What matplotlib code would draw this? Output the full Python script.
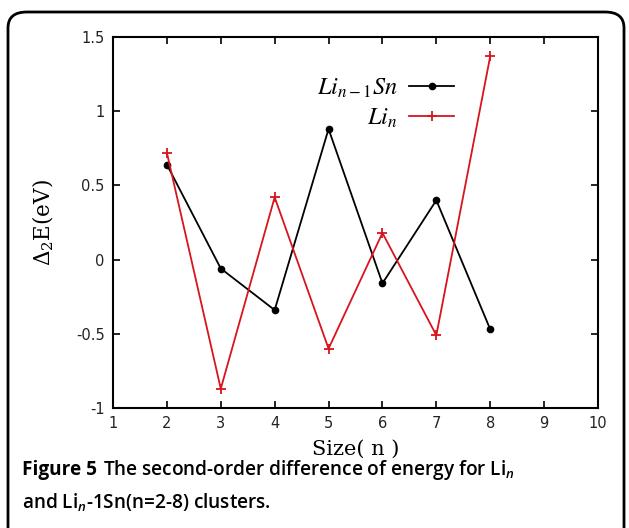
import matplotlib
matplotlib.use("Agg")
import matplotlib.pyplot as plt
from matplotlib.patches import FancyBboxPatch
from matplotlib.ticker import FuncFormatter

sizes = [2, 3, 4, 5, 6, 7, 8]
li_sn = [0.64, -0.06, -0.34, 0.88, -0.16, 0.40, -0.47]
li_n = [0.72, -0.87, 0.42, -0.60, 0.18, -0.51, 1.37]
xticks = [1, 2, 3, 4, 5, 6, 7, 8, 9, 10]
yticks = [-1, -0.5, 0, 0.5, 1, 1.5]

W, H = 629, 528
fig = plt.figure(figsize=(W / 100, H / 100), dpi=100)

# rounded frame
frame = FancyBboxPatch((8 / W, -0.05), 616 / W, (H - 12) / H + 0.05,
                       boxstyle="round,pad=0,rounding_size=0.03",
                       transform=fig.transFigure, fill=False, lw=2,
                       edgecolor="black", clip_on=False)
fig.patches.append(frame)

ax = fig.add_axes([113 / W, 1 - 408 / H, (598 - 113) / W, (408 - 37) / H])
ax.plot(sizes, li_sn, color="black", lw=1.3, marker="o", ms=4.5,
        label=r"$Li_{n-1}Sn$")
ax.plot(sizes, li_n, color="#d8141c", lw=1.3, marker="+", ms=7, mew=1.3,
        label=r"$Li_n$")
ax.set_xlim(1, 10)
ax.set_ylim(-1, 1.5)
ax.set_xticks(xticks)
ax.set_yticks(yticks)
ax.yaxis.set_major_formatter(FuncFormatter(lambda v, p: f"{v:g}"))
ax.tick_params(direction="in", top=True, right=True, length=5, width=1.2,
               labelsize=10.5, labelcolor="#222222", pad=6)
for s in ax.spines.values():
    s.set_linewidth(1.5)

ax.set_xlabel("Size( n )", family="DejaVu Serif", fontsize=15, labelpad=6)
ax.set_ylabel(r"$\Delta_2$E(eV)", family="DejaVu Serif", fontsize=15.5,
              labelpad=14)
ax.yaxis.label.set_math_fontfamily("dejavuserif")

leg = ax.legend(loc="upper right", bbox_to_anchor=(0.749, 0.955),
                markerfirst=False, frameon=False, handlelength=1.85,
                labelspacing=0.25, handletextpad=0.5,
                prop={"size": 17.5, "math_fontfamily": "stix"})

plt.rcParams["mathtext.fontset"] = "custom"
plt.rcParams["mathtext.rm"] = "Open Sans:semibold"
plt.rcParams["mathtext.it"] = "Open Sans:italic:semibold"
plt.rcParams["mathtext.bf"] = "Open Sans:bold"

fs = 13.7
t1 = fig.text(22 / W, 1 - 470 / H, "Figure 5", family="Open Sans",
              weight="bold", fontsize=fs, va="center")
renderer = fig.canvas.get_renderer()
bb = t1.get_window_extent(renderer)
fig.text((bb.x1 + 6) / W, 1 - 470 / H,
         r"The second-order difference of energy for Li$_{n}$",
         family="Open Sans", weight="semibold", fontsize=fs, va="center",
         math_fontfamily="custom")
fig.text(22 / W, 1 - 503 / H,
         r"and Li$_{n}$-1Sn(n=2-8) clusters.",
         family="Open Sans", weight="semibold", fontsize=fs, va="center",
         math_fontfamily="custom")

fig.savefig("out.png", dpi=100)
